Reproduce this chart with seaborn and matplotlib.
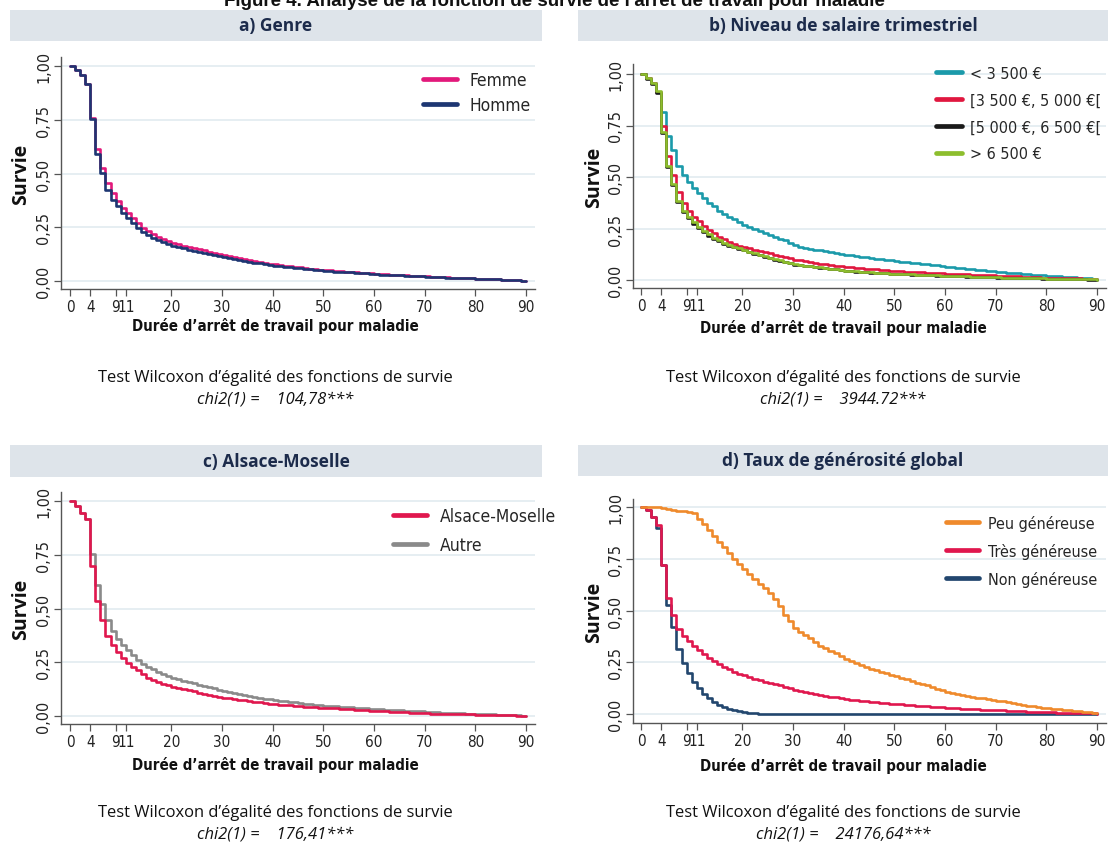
import numpy as np
import pandas as pd
import matplotlib
matplotlib.use("Agg")
import matplotlib.pyplot as plt
import seaborn as sns
from matplotlib.patches import Rectangle
from matplotlib.lines import Line2D
from matplotlib.font_manager import FontProperties

# ---------------- data (survival estimates per day 0..90) ----------------
days = list(range(91))

femme = [1.000, 0.980, 0.957, 0.918, 0.757, 0.615, 0.527, 0.457, 0.408, 0.372, 0.341,
         0.318, 0.291, 0.271, 0.248, 0.233, 0.217, 0.205, 0.194, 0.186, 0.178,
         0.171, 0.165, 0.159, 0.153, 0.147, 0.142, 0.136, 0.131, 0.125, 0.120,
         0.115, 0.110, 0.106, 0.101, 0.097, 0.093, 0.089, 0.085, 0.081, 0.077,
         0.074, 0.071, 0.068, 0.066, 0.063, 0.061, 0.058, 0.056, 0.053, 0.051,
         0.049, 0.047, 0.046, 0.044, 0.042, 0.040, 0.039, 0.037, 0.035, 0.033,
         0.032, 0.031, 0.029, 0.028, 0.027, 0.026, 0.025, 0.024, 0.022, 0.021,
         0.020, 0.019, 0.018, 0.017, 0.016, 0.015, 0.014, 0.013, 0.012, 0.011,
         0.010, 0.009, 0.008, 0.007, 0.006, 0.005, 0.004, 0.003, 0.002, 0.000]
homme = [1.000, 0.980, 0.957, 0.918, 0.752, 0.592, 0.504, 0.423, 0.377, 0.349, 0.315,
         0.291, 0.268, 0.248, 0.228, 0.212, 0.200, 0.189, 0.180, 0.172, 0.164,
         0.158, 0.152, 0.146, 0.141, 0.135, 0.130, 0.125, 0.120, 0.115, 0.110,
         0.106, 0.102, 0.098, 0.094, 0.090, 0.086, 0.082, 0.078, 0.074, 0.071,
         0.069, 0.067, 0.065, 0.062, 0.060, 0.058, 0.056, 0.053, 0.050, 0.047,
         0.046, 0.044, 0.043, 0.041, 0.040, 0.038, 0.037, 0.035, 0.033, 0.031,
         0.030, 0.029, 0.028, 0.027, 0.026, 0.025, 0.024, 0.023, 0.021, 0.020,
         0.019, 0.018, 0.017, 0.016, 0.015, 0.014, 0.014, 0.013, 0.012, 0.011,
         0.010, 0.009, 0.008, 0.007, 0.006, 0.005, 0.004, 0.003, 0.002, 0.000]

sal_lt3500 = [1.000, 0.980, 0.955, 0.915, 0.814, 0.700, 0.632, 0.554, 0.510, 0.478, 0.449,
              0.421, 0.397, 0.376, 0.357, 0.337, 0.321, 0.308, 0.295, 0.280, 0.267,
              0.256, 0.246, 0.237, 0.228, 0.219, 0.210, 0.201, 0.192, 0.181, 0.168,
              0.162, 0.157, 0.152, 0.148, 0.144, 0.140, 0.136, 0.132, 0.128, 0.123,
              0.119, 0.116, 0.113, 0.110, 0.107, 0.104, 0.101, 0.098, 0.095, 0.090,
              0.087, 0.085, 0.083, 0.081, 0.079, 0.077, 0.074, 0.071, 0.068, 0.065,
              0.062, 0.059, 0.057, 0.055, 0.052, 0.050, 0.048, 0.046, 0.043, 0.040,
              0.038, 0.036, 0.034, 0.032, 0.030, 0.028, 0.026, 0.024, 0.022, 0.020,
              0.019, 0.018, 0.016, 0.015, 0.013, 0.012, 0.010, 0.009, 0.007, 0.006]
sal_3500_5000 = [1.000, 0.980, 0.955, 0.915, 0.750, 0.600, 0.510, 0.426, 0.376, 0.337, 0.308,
                 0.284, 0.263, 0.243, 0.227, 0.211, 0.198, 0.186, 0.177, 0.167, 0.159,
                 0.153, 0.147, 0.141, 0.135, 0.129, 0.123, 0.117, 0.111, 0.105, 0.099,
                 0.095, 0.091, 0.087, 0.083, 0.080, 0.077, 0.073, 0.070, 0.067, 0.064,
                 0.061, 0.059, 0.057, 0.055, 0.053, 0.051, 0.049, 0.047, 0.045, 0.043,
                 0.042, 0.041, 0.040, 0.038, 0.037, 0.036, 0.035, 0.034, 0.032, 0.031,
                 0.030, 0.029, 0.028, 0.027, 0.026, 0.025, 0.024, 0.023, 0.022, 0.020,
                 0.019, 0.018, 0.018, 0.017, 0.016, 0.015, 0.014, 0.013, 0.012, 0.012,
                 0.011, 0.010, 0.010, 0.009, 0.008, 0.008, 0.007, 0.006, 0.005, 0.005]
sal_5000_6500 = [1.000, 0.978, 0.950, 0.908, 0.715, 0.550, 0.462, 0.380, 0.330, 0.300, 0.272,
                 0.252, 0.233, 0.215, 0.200, 0.188, 0.177, 0.167, 0.159, 0.151, 0.144,
                 0.136, 0.128, 0.120, 0.113, 0.106, 0.099, 0.093, 0.087, 0.081, 0.075,
                 0.072, 0.069, 0.066, 0.063, 0.060, 0.057, 0.054, 0.051, 0.048, 0.045,
                 0.043, 0.041, 0.039, 0.038, 0.036, 0.035, 0.033, 0.032, 0.030, 0.029,
                 0.028, 0.027, 0.026, 0.025, 0.024, 0.023, 0.022, 0.021, 0.020, 0.019,
                 0.018, 0.017, 0.017, 0.016, 0.015, 0.015, 0.014, 0.013, 0.013, 0.012,
                 0.011, 0.011, 0.010, 0.010, 0.009, 0.009, 0.008, 0.008, 0.007, 0.006,
                 0.006, 0.005, 0.005, 0.004, 0.004, 0.003, 0.003, 0.002, 0.002, 0.001]
sal_gt6500 = [1.000, 0.980, 0.955, 0.918, 0.718, 0.553, 0.465, 0.384, 0.337, 0.308, 0.280,
              0.259, 0.240, 0.222, 0.206, 0.193, 0.182, 0.170, 0.162, 0.154, 0.146,
              0.138, 0.130, 0.122, 0.115, 0.108, 0.101, 0.095, 0.089, 0.083, 0.077,
              0.073, 0.070, 0.067, 0.064, 0.061, 0.058, 0.055, 0.052, 0.049, 0.046,
              0.044, 0.042, 0.040, 0.039, 0.037, 0.036, 0.034, 0.033, 0.031, 0.030,
              0.029, 0.028, 0.027, 0.026, 0.025, 0.024, 0.023, 0.022, 0.021, 0.020,
              0.019, 0.018, 0.018, 0.017, 0.016, 0.016, 0.015, 0.014, 0.014, 0.013,
              0.012, 0.012, 0.011, 0.011, 0.010, 0.010, 0.009, 0.009, 0.008, 0.007,
              0.007, 0.006, 0.006, 0.005, 0.005, 0.004, 0.004, 0.003, 0.003, 0.002]

alsace = [1.000, 0.977, 0.943, 0.915, 0.698, 0.535, 0.445, 0.372, 0.330, 0.300, 0.271,
          0.248, 0.229, 0.212, 0.194, 0.178, 0.169, 0.160, 0.150, 0.143, 0.135,
          0.129, 0.124, 0.119, 0.114, 0.109, 0.104, 0.099, 0.094, 0.089, 0.085,
          0.082, 0.079, 0.076, 0.073, 0.070, 0.067, 0.064, 0.061, 0.058, 0.055,
          0.053, 0.051, 0.049, 0.048, 0.046, 0.044, 0.043, 0.041, 0.039, 0.037,
          0.036, 0.035, 0.034, 0.032, 0.031, 0.030, 0.028, 0.027, 0.025, 0.023,
          0.022, 0.021, 0.020, 0.019, 0.018, 0.017, 0.016, 0.015, 0.013, 0.012,
          0.011, 0.011, 0.010, 0.009, 0.009, 0.008, 0.008, 0.007, 0.007, 0.006,
          0.006, 0.005, 0.005, 0.004, 0.004, 0.003, 0.003, 0.002, 0.001, 0.000]
autre = [1.000, 0.977, 0.943, 0.915, 0.752, 0.608, 0.523, 0.445, 0.395, 0.360, 0.330,
         0.305, 0.282, 0.262, 0.243, 0.229, 0.217, 0.206, 0.197, 0.186, 0.178,
         0.171, 0.164, 0.158, 0.152, 0.146, 0.140, 0.134, 0.128, 0.122, 0.116,
         0.111, 0.107, 0.102, 0.098, 0.094, 0.090, 0.085, 0.081, 0.077, 0.073,
         0.070, 0.068, 0.065, 0.063, 0.060, 0.058, 0.056, 0.053, 0.051, 0.048,
         0.047, 0.045, 0.044, 0.042, 0.040, 0.039, 0.037, 0.036, 0.034, 0.032,
         0.031, 0.029, 0.028, 0.027, 0.026, 0.024, 0.023, 0.022, 0.021, 0.019,
         0.018, 0.017, 0.016, 0.015, 0.014, 0.013, 0.012, 0.011, 0.010, 0.009,
         0.008, 0.008, 0.007, 0.006, 0.005, 0.005, 0.004, 0.003, 0.002, 0.002]

peu_gen = [1.000, 1.000, 1.000, 0.998, 0.995, 0.992, 0.987, 0.983, 0.980, 0.976, 0.972,
           0.943, 0.919, 0.890, 0.861, 0.833, 0.806, 0.778, 0.749, 0.725, 0.700,
           0.676, 0.652, 0.630, 0.608, 0.584, 0.555, 0.523, 0.480, 0.447, 0.415,
           0.398, 0.382, 0.366, 0.350, 0.330, 0.318, 0.305, 0.293, 0.280, 0.268,
           0.258, 0.248, 0.238, 0.228, 0.218, 0.211, 0.204, 0.196, 0.189, 0.182,
           0.175, 0.167, 0.160, 0.152, 0.145, 0.138, 0.130, 0.123, 0.116, 0.108,
           0.102, 0.096, 0.091, 0.086, 0.081, 0.078, 0.075, 0.071, 0.068, 0.065,
           0.061, 0.057, 0.052, 0.048, 0.044, 0.041, 0.037, 0.034, 0.030, 0.027,
           0.025, 0.023, 0.020, 0.018, 0.016, 0.014, 0.012, 0.010, 0.007, 0.005]
tres_gen = [1.000, 0.987, 0.951, 0.914, 0.722, 0.560, 0.479, 0.409, 0.377, 0.353, 0.328,
            0.307, 0.288, 0.272, 0.256, 0.240, 0.227, 0.215, 0.204, 0.194, 0.186,
            0.178, 0.170, 0.163, 0.157, 0.150, 0.144, 0.138, 0.131, 0.124, 0.117,
            0.111, 0.106, 0.101, 0.096, 0.092, 0.088, 0.084, 0.080, 0.076, 0.073,
            0.070, 0.068, 0.065, 0.063, 0.060, 0.057, 0.055, 0.052, 0.050, 0.047,
            0.046, 0.044, 0.042, 0.041, 0.039, 0.037, 0.036, 0.034, 0.033, 0.031,
            0.029, 0.028, 0.026, 0.025, 0.023, 0.022, 0.021, 0.020, 0.019, 0.018,
            0.017, 0.016, 0.015, 0.014, 0.013, 0.012, 0.011, 0.010, 0.009, 0.008,
            0.008, 0.007, 0.006, 0.006, 0.005, 0.004, 0.004, 0.003, 0.003, 0.002]
non_gen = [1.000, 0.985, 0.950, 0.898, 0.722, 0.528, 0.418, 0.312, 0.248, 0.200, 0.155,
           0.126, 0.099, 0.078, 0.058, 0.045, 0.034, 0.026, 0.019, 0.013, 0.010,
           0.006, 0.003, 0.000, 0.000, 0.000, 0.000, 0.000, 0.000, 0.000, 0.000,
           0.000, 0.000, 0.000, 0.000, 0.000, 0.000, 0.000, 0.000, 0.000, 0.000,
           0.000, 0.000, 0.000, 0.000, 0.000, 0.000, 0.000, 0.000, 0.000, 0.000,
           0.000, 0.000, 0.000, 0.000, 0.000, 0.000, 0.000, 0.000, 0.000, 0.000,
           0.000, 0.000, 0.000, 0.000, 0.000, 0.000, 0.000, 0.000, 0.000, 0.000,
           0.000, 0.000, 0.000, 0.000, 0.000, 0.000, 0.000, 0.000, 0.000, 0.000,
           0.000, 0.000, 0.000, 0.000, 0.000, 0.000, 0.000, 0.000, 0.000, 0.000]

x_ticks = [0, 4, 9, 11, 20, 30, 40, 50, 60, 70, 80, 90]
y_ticks = [0.0, 0.25, 0.5, 0.75, 1.0]
y_ticklabels = ["0,00", "0,25", "0,50", "0,75", "1,00"]

panel_titles = ["a) Genre", "b) Niveau de salaire trimestriel",
                "c) Alsace-Moselle", "d) Taux de générosité global"]
chi2_texts = ["104,78***", "3944.72***", "176,41***", "24176,64***"]

panels = [
    {"series": [("Femme", femme, "#E2197B"), ("Homme", homme, "#1D3672")],
     "legend": ["Femme", "Homme"]},
    {"series": [("< 3 500 €", sal_lt3500, "#1B9AAA"),
                ("[3 500 €, 5 000 €[", sal_3500_5000, "#E0173F"),
                ("[5 000 €, 6 500 €[", sal_5000_6500, "#1A1A1A"),
                ("> 6 500 €", sal_gt6500, "#8DBE2D")],
     "legend": ["< 3 500 €", "[3 500 €, 5 000 €[", "[5 000 €, 6 500 €[", "> 6 500 €"]},
    {"series": [("Autre", autre, "#8A8A8A"), ("Alsace-Moselle", alsace, "#E0174E")],
     "legend": ["Alsace-Moselle", "Autre"]},
    {"series": [("Non généreuse", non_gen, "#22466E"),
                ("Très généreuse", tres_gen, "#E0174E"),
                ("Peu généreuse", peu_gen, "#EF8A2C")],
     "legend": ["Peu généreuse", "Très généreuse", "Non généreuse"]},
]

# ---------------- layout (pixels) ----------------
W, H = 1108, 845
sns.set_theme(style="white")
plt.rcParams["font.family"] = ["DejaVu Sans"]
HUM = ["Open Sans", "DejaVu Sans"]


def cond(size, weight="normal"):
    return FontProperties(family="DejaVu Sans", stretch="condensed", size=size, weight=weight)


fig = plt.figure(figsize=(W / 100, H / 100), dpi=100)
fig.patch.set_facecolor("white")

layout = [
    dict(band=(10, 542, 11, 42), x0px=70, x90px=526, y1px=67, y0px=282,
         ax=(61, 535, 58, 290), ylab=21, xlab=326, test=378, chi=400, cx=275,
         leg=dict(x=423, y=72, size=12.5, hl=1.96, tp=0.7, ls=0.43)),
    dict(band=(578, 1108, 11, 42), x0px=641, x90px=1097, y1px=75, y0px=281,
         ax=(633, 1106, 65, 289), ylab=594, xlab=328, test=378, chi=400, cx=843,
         leg=dict(x=936, y=67, size=11.5, hl=1.6, tp=0.5, ls=0.74)),
    dict(band=(10, 542, 446, 478), x0px=70, x90px=526, y1px=502, y0px=717,
         ax=(61, 535, 493, 725), ylab=21, xlab=765, test=813, chi=835, cx=275,
         leg=dict(x=393, y=508, size=12.5, hl=1.96, tp=0.75, ls=0.66)),
    dict(band=(578, 1108, 446, 477), x0px=641, x90px=1097, y1px=508, y0px=715,
         ax=(633, 1106, 500, 724), ylab=594, xlab=766, test=813, chi=835, cx=843,
         leg=dict(x=946, y=516, size=11.5, hl=2.05, tp=0.6, ls=0.74)),
]

fig.text(0.5, 1 - 2 / H, "Figure 4. Analyse de la fonction de survie de l'arrêt de travail pour maladie",
         ha="center", va="center", fontsize=13.5, fontweight="bold",
         family=["Liberation Sans", "DejaVu Sans"], color="#111111")

for i, (pan, lay) in enumerate(zip(panels, layout)):
    bx0, bx1, by0, by1 = lay["band"]
    fig.patches.append(Rectangle((bx0 / W, 1 - by1 / H), (bx1 - bx0) / W, (by1 - by0) / H,
                                 transform=fig.transFigure, facecolor="#DEE4EA",
                                 edgecolor="none", zorder=0))
    fig.text((bx0 + bx1) / 2 / W, 1 - (by0 + by1) / 2 / H, panel_titles[i],
             ha="center", va="center", fontsize=12.5, fontweight="bold",
             family=HUM, color="#1C2B4B")

    l, r, t, b = lay["ax"]
    ax = fig.add_axes([l / W, 1 - b / H, (r - l) / W, (b - t) / H])
    pxu_x = (lay["x90px"] - lay["x0px"]) / 90.0
    pxu_y = (lay["y0px"] - lay["y1px"]) / 1.0
    ax.set_xlim((l - lay["x0px"]) / pxu_x, (r - lay["x0px"]) / pxu_x)
    ax.set_ylim((lay["y0px"] - b) / pxu_y, (lay["y0px"] - t) / pxu_y)

    frames = []
    for name, vals, col in pan["series"]:
        frames.append(pd.DataFrame({"jour": days, "survie": vals, "groupe": name}))
    df = pd.concat(frames, ignore_index=True)
    order = [s[0] for s in pan["series"]]
    pal = {s[0]: s[2] for s in pan["series"]}
    sns.lineplot(data=df, x="jour", y="survie", hue="groupe", hue_order=order,
                 palette=pal, estimator=None, drawstyle="steps-post",
                 linewidth=1.9, legend=False, ax=ax, zorder=3)

    ax.set_yticks(y_ticks)
    ax.set_yticklabels(y_ticklabels, rotation=90, va="center", color="#222222",
                       fontproperties=cond(11.5))
    ax.set_xticks(x_ticks)
    ax.set_xticklabels([str(v) for v in x_ticks], color="#222222", fontproperties=cond(11))
    ax.tick_params(axis="both", length=5, width=0.9, color="#555555", pad=2,
                   bottom=True, left=True, direction="out")
    ax.grid(axis="y", color="#E6EEF2", linewidth=1.4, zorder=0)
    ax.grid(axis="x", visible=False)
    for s in ["top", "right"]:
        ax.spines[s].set_visible(False)
    for s in ["left", "bottom"]:
        ax.spines[s].set_color("#555555")
        ax.spines[s].set_linewidth(1.0)
    ax.set_xlabel("")
    ax.set_ylabel("")
    ax.set_facecolor("white")

    fig.text(lay["ylab"] / W, 1 - ((t + b) / 2) / H, "Survie", rotation=90,
             ha="center", va="center", fontsize=14, fontweight="bold",
             family=HUM, color="#111111")
    fig.text(lay["cx"] / W, 1 - lay["xlab"] / H, "Durée d’arrêt de travail pour maladie",
             ha="center", va="center", color="#111111", fontproperties=cond(10.8, "bold"))
    fig.text(lay["cx"] / W, 1 - lay["test"] / H,
             "Test Wilcoxon d’égalité des fonctions de survie",
             ha="center", va="center", fontsize=11.9, family=HUM, color="#111111")
    fig.text(lay["cx"] / W, 1 - lay["chi"] / H, "chi2(1) =    " + chi2_texts[i],
             ha="center", va="center", fontsize=11.9, style="italic",
             family=HUM, color="#111111")

    lg = lay["leg"]
    handles = [Line2D([0], [0], color=pal[n], lw=3.4) for n in pan["legend"]]
    ax.legend(handles, pan["legend"], loc="upper left",
              bbox_to_anchor=(lg["x"] / W, 1 - lg["y"] / H), bbox_transform=fig.transFigure,
              frameon=False, handlelength=lg["hl"], handletextpad=lg["tp"],
              labelspacing=lg["ls"], borderaxespad=0, borderpad=0,
              prop=cond(lg["size"]))

fig.savefig("out.png", dpi=100, facecolor="white")
